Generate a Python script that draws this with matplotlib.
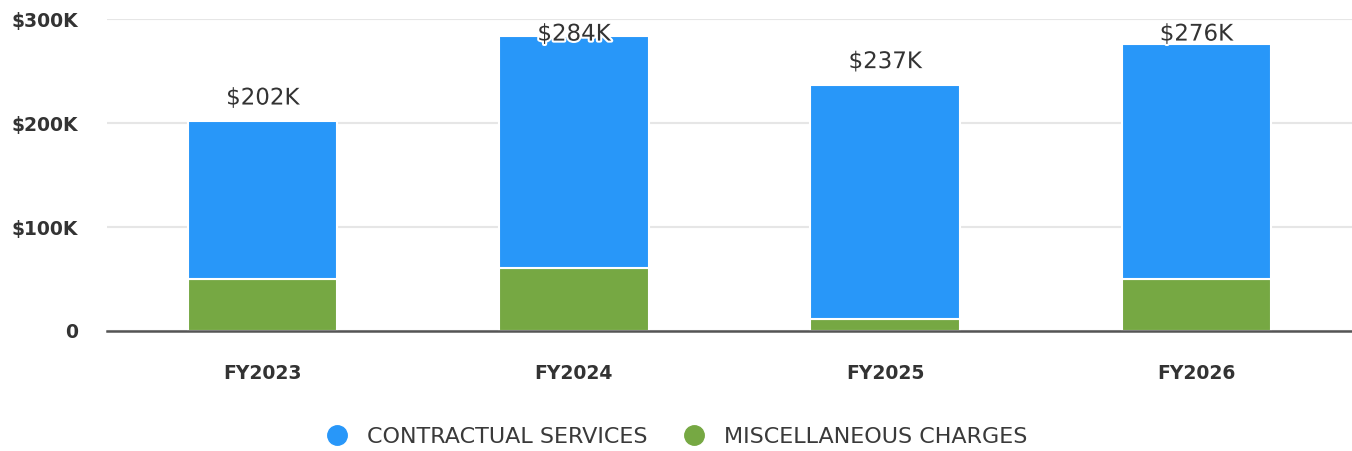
import numpy as np
import matplotlib.pyplot as plt
import matplotlib.patheffects as pe

years = ["FY2023", "FY2024", "FY2025", "FY2026"]
totals = [202, 284, 237, 276]          # $K
misc = [50, 61, 12, 50]                # $K
contractual = [t - m for t, m in zip(totals, misc)]

blue = "#2897f9"
green = "#76a843"
dark = "#333333"

plt.rcParams['font.family'] = ['DejaVu Sans']

fig = plt.figure(figsize=(13.52, 4.51), dpi=100)
ax = fig.add_axes([107 / 1352, 1 - 331 / 451, 1 - 107 / 1352, 312 / 451])

x = np.arange(len(years))
w = 0.48
ax.bar(x, misc, w, color=green, edgecolor="white", linewidth=1.5, zorder=3)
ax.bar(x, contractual, w, bottom=misc, color=blue, edgecolor="white",
       linewidth=1.5, zorder=3)

# value labels sit above the bar, but no higher than just under the top line
for xi, t in zip(x, totals):
    ax.text(xi, min(t + 22, 285.5), "$%dK" % t, ha="center", va="center",
            fontsize=16.5, color=dark, zorder=5, clip_on=False,
            path_effects=[pe.withStroke(linewidth=3, foreground="white")])

ax.set_xlim(-0.5, 3.5)
ax.set_ylim(0, 300)
ax.set_yticks([0, 100, 200, 300])
ax.set_yticklabels(["0", "$100K", "$200K", "$300K"], fontsize=13.5,
                   fontweight="bold", color=dark)
ax.set_xticks(x)
ax.set_xticklabels(years, fontsize=13.5, fontweight="bold", color=dark)
ax.tick_params(axis="y", length=0, pad=21)
ax.tick_params(axis="x", length=0, pad=24)
ax.grid(axis="y", color="#e6e6e6", linewidth=1.5, zorder=0)
for s in ["top", "right", "left"]:
    ax.spines[s].set_visible(False)
ax.spines["bottom"].set_color("#555555")
ax.spines["bottom"].set_linewidth(1.8)
ax.spines["bottom"].set_zorder(4)

handles = [plt.Line2D([], [], marker="o", ls="", markersize=14, color=blue),
           plt.Line2D([], [], marker="o", ls="", markersize=14, color=green)]
leg = fig.legend(handles, ["CONTRACTUAL SERVICES", "MISCELLANEOUS CHARGES"],
                 loc="center", bbox_to_anchor=(671 / 1352, 1 - 437 / 451),
                 ncol=2, frameon=False, handletextpad=0.35, columnspacing=1.1,
                 prop={"size": 16})
for txt in leg.get_texts():
    txt.set_color("#3a3a3a")

fig.savefig("out.png", dpi=100)
